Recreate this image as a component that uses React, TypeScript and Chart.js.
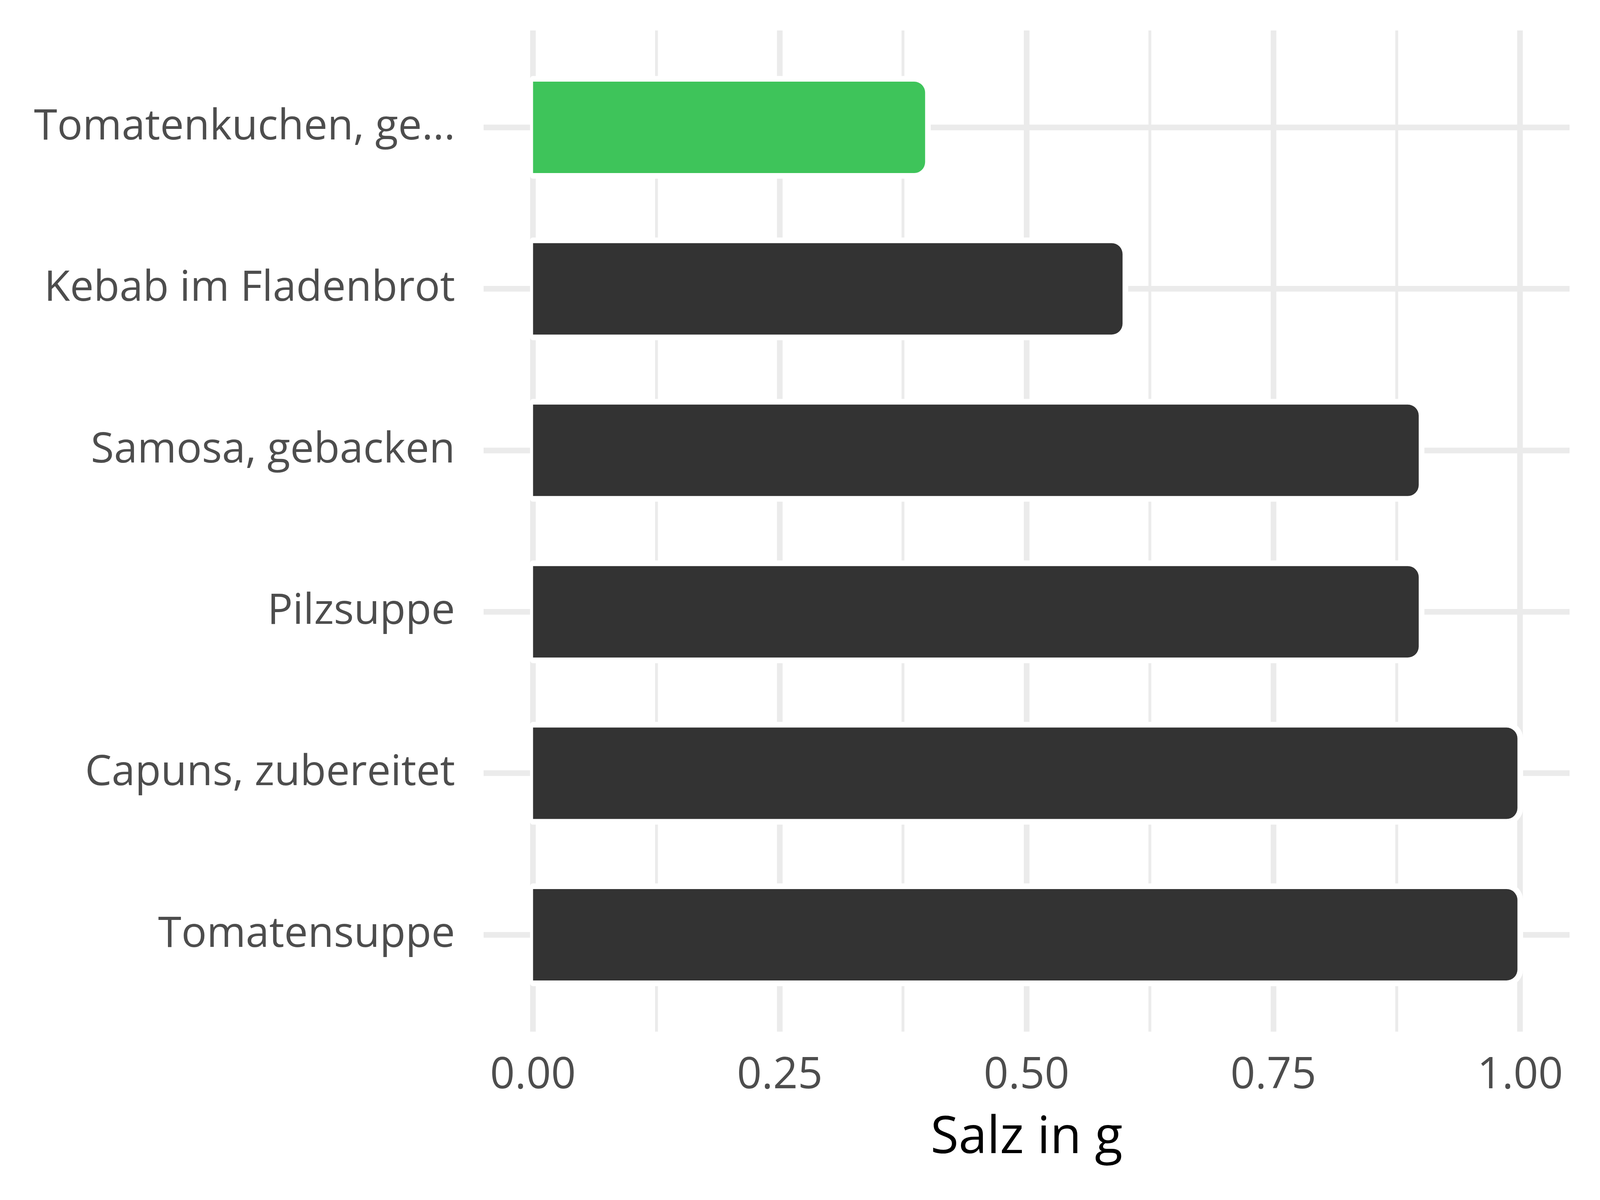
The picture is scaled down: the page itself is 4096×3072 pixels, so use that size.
import React, { useEffect, useRef } from 'react';
import { Chart, registerables } from 'chart.js';

Chart.register(...registerables);

const categories = [
  'Tomatenkuchen, ge...',
  'Kebab im Fladenbrot',
  'Samosa, gebacken',
  'Pilzsuppe',
  'Capuns, zubereitet',
  'Tomatensuppe',
];
const values = [0.4, 0.6, 0.9, 0.9, 1.0, 1.0];
const barColors = ['#3EC45A', '#333333', '#333333', '#333333', '#333333', '#333333'];
const majorTicks = [0, 0.25, 0.5, 0.75, 1.0];
const tickLabels = ['0.00', '0.25', '0.50', '0.75', '1.00'];
const minorTicks = [0.125, 0.375, 0.625, 0.875];
const xTitle = 'Salz in g';

const W = 4096;
const H = 3072;
const FONT = "'Open Sans', sans-serif";
const GRID = '#EBEBEB';
const MAJOR_W = 14.5;
const MINOR_W = 7.3;
const BAR_BORDER = 7;

const outlinePlugin = {
  id: 'whiteOutline',
  beforeDatasetsDraw(chart: any) {
    const ctx = chart.ctx;
    const area = chart.chartArea;
    const xScale = chart.scales.x;
    // zero grid line (drawn here so the bars start exactly at the baseline)
    const x0 = xScale.getPixelForValue(0);
    ctx.save();
    ctx.strokeStyle = GRID;
    ctx.lineWidth = MAJOR_W;
    ctx.beginPath();
    ctx.moveTo(x0, area.top);
    ctx.lineTo(x0, area.bottom);
    ctx.stroke();
    ctx.restore();

    const m = 7.5;
    const r = 35;
    chart.getSortedVisibleDatasetMetas().forEach((meta: any) => {
      meta.data.forEach((bar: any) => {
        const { x, y, base, height } = bar.getProps(['x', 'y', 'base', 'height'], true);
        const left = Math.min(x, base) - m;
        const right = Math.max(x, base) + m;
        const top = y - height / 2 - m;
        const h = height + 2 * m;
        ctx.save();
        ctx.fillStyle = '#FFFFFF';
        ctx.beginPath();
        (ctx as any).roundRect(left, top, right - left, h, [m, r + m, r + m, m]);
        ctx.fill();
        ctx.restore();
      });
    });
  },
};

export default function App() {
  const canvasRef = useRef<HTMLCanvasElement | null>(null);

  useEffect(() => {
    if (!canvasRef.current) return;
    Chart.defaults.font.family = FONT;
    const chart = new Chart(canvasRef.current, {
      type: 'bar',
      data: {
        labels: categories,
        datasets: [
          {
            data: values.map((v, i) => ({ x: v, y: i })) as any,
            backgroundColor: barColors,
            borderColor: '#FFFFFF',
            borderWidth: BAR_BORDER,
            borderRadius: 35,
            borderSkipped: 'start',
            inflateAmount: 0,
            barPercentage: 0.6,
            categoryPercentage: 1,
          },
        ],
      },
      options: {
        indexAxis: 'y',
        animation: false,
        responsive: true,
        maintainAspectRatio: false,
        layout: { padding: { left: 0, top: 78, right: 78, bottom: 0 } },
        plugins: {
          legend: { display: false },
          tooltip: { enabled: false },
        },
        scales: {
          x: {
            type: 'linear',
            position: 'bottom',
            min: -0.05,
            max: 1.05,
            afterBuildTicks: (scale: any) => {
              scale.ticks = [...majorTicks, ...minorTicks]
                .sort((a, b) => a - b)
                .map((v) => ({ value: v }));
            },
            afterFit: (scale: any) => {
              scale.height = 431;
              scale.paddingLeft = 0;
              scale.paddingRight = 0;
            },
            grid: {
              color: GRID,
              lineWidth: (c: any) => {
                const v = c.tick?.value;
                if (v === 0) return 0;
                return majorTicks.includes(v) ? MAJOR_W : MINOR_W;
              },
              drawTicks: false,
            },
            border: { display: false },
            ticks: {
              autoSkip: false,
              maxRotation: 0,
              padding: 47,
              color: '#4D4D4D',
              font: { family: FONT, size: 111 },
              callback: (value: any) => {
                const idx = majorTicks.indexOf(Number(value));
                return idx >= 0 ? tickLabels[idx] : '';
              },
            },
            title: {
              display: true,
              text: xTitle,
              color: '#000000',
              font: { family: FONT, size: 131 },
              padding: { top: 0, bottom: 79 },
            },
          },
          y: {
            type: 'linear',
            reverse: true,
            offset: false,
            min: -0.6,
            max: 5.6,
            afterBuildTicks: (scale: any) => {
              scale.ticks = categories.map((_, i) => ({ value: i }));
            },
            afterFit: (scale: any) => {
              scale.width = 1238;
              scale.paddingTop = 0;
              scale.paddingBottom = 0;
            },
            grid: {
              color: GRID,
              lineWidth: MAJOR_W,
              drawTicks: false,
              offset: false,
            },
            border: { display: false },
            ticks: {
              autoSkip: false,
              padding: 73,
              color: '#4D4D4D',
              font: { family: FONT, size: 108 },
              callback: (value: any) => categories[Number(value)] ?? '',
            },
          },
        },
      },
      plugins: [outlinePlugin],
    });
    return () => chart.destroy();
  }, []);

  return (
    <div
      style={{
        position: 'fixed',
        left: 0,
        top: 0,
        width: W,
        height: H,
        background: '#FFFFFF',
      }}
    >
      <canvas ref={canvasRef} style={{ width: '100%', height: '100%' }} />
    </div>
  );
}
